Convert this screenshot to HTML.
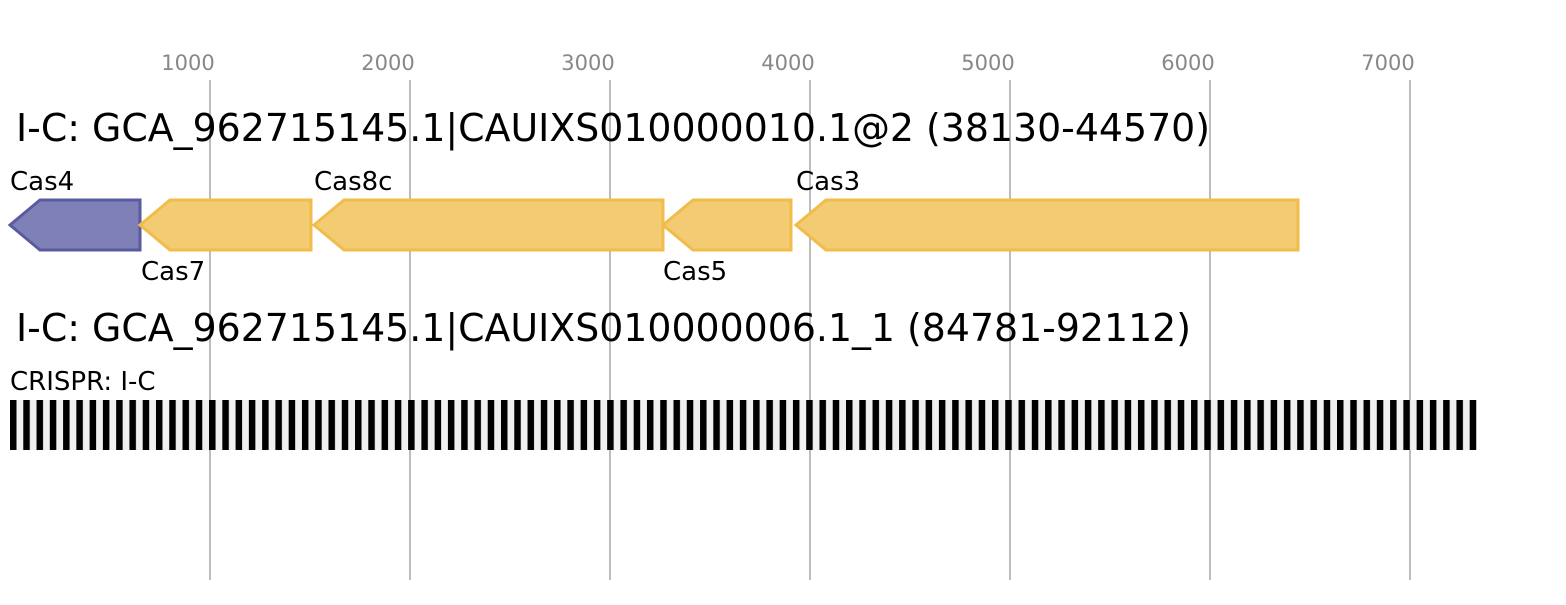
<!DOCTYPE html>
<html><head><style>body{margin:0;background:#fff}</style></head><body>
<svg width="1566" height="600" xmlns="http://www.w3.org/2000/svg" font-family="DejaVu Sans, Liberation Sans, sans-serif">
<defs>
<pattern id="p" x="10" y="400" width="13.27" height="50" patternUnits="userSpaceOnUse">
<rect x="0" y="0" width="13.27" height="50" fill="#f0f0f0"/>
<rect x="0" y="0" width="6.5" height="50" fill="#000"/>
</pattern>
</defs>
<g stroke="#bdbdbd" stroke-width="2">
<line x1="210" y1="80" x2="210" y2="580"/><line x1="410" y1="80" x2="410" y2="580"/><line x1="610" y1="80" x2="610" y2="580"/><line x1="810" y1="80" x2="810" y2="580"/><line x1="1010" y1="80" x2="1010" y2="580"/><line x1="1210" y1="80" x2="1210" y2="580"/><line x1="1410" y1="80" x2="1410" y2="580"/>
</g>
<g fill="#888" font-size="21" text-anchor="middle">
<text x="188" y="70">1000</text><text x="388" y="70">2000</text><text x="588" y="70">3000</text><text x="788" y="70">4000</text><text x="988" y="70">5000</text><text x="1188" y="70">6000</text><text x="1388" y="70">7000</text>
</g>
<text x="16" y="141" font-size="38" textLength="1194" lengthAdjust="spacingAndGlyphs">I-C: GCA_962715145.1|CAUIXS010000010.1@2 (38130-44570)</text>
<text x="16" y="341" font-size="38" textLength="1175" lengthAdjust="spacingAndGlyphs">I-C: GCA_962715145.1|CAUIXS010000006.1_1 (84781-92112)</text>
<g font-size="26">
<text x="10" y="190">Cas4</text><text x="141" y="280">Cas7</text><text x="314" y="190">Cas8c</text><text x="663" y="280">Cas5</text><text x="796" y="190">Cas3</text><text x="10" y="390">CRISPR: I-C</text>
</g>
<polygon points="10,225 40,200 140,200 140,250 40,250" fill="#8080b8" stroke="#5a5aa0" stroke-width="3"/>
<g fill="#f2cb73" stroke="#f0bc4a" stroke-width="3">
<polygon points="140,225 170,200 311,200 311,250 170,250"/>
<polygon points="314,225 344,200 663,200 663,250 344,250"/>
<polygon points="663,225 693,200 791,200 791,250 693,250"/>
<polygon points="796,225 826,200 1298,200 1298,250 826,250"/>
</g>
<rect x="10" y="400" width="1467" height="50" fill="url(#p)"/>
</svg>
</body></html>
